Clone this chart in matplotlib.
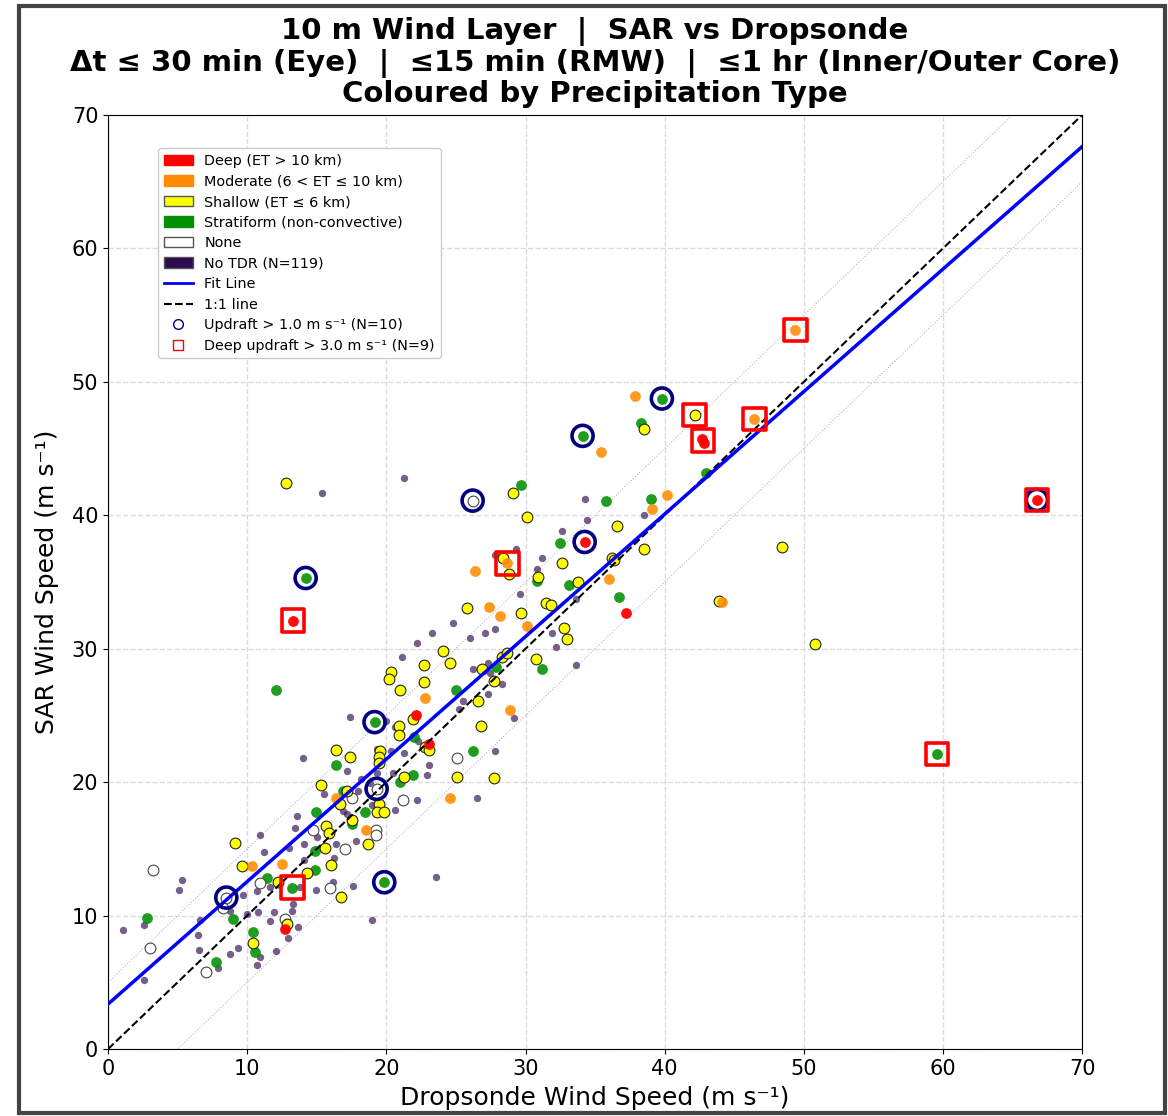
import matplotlib
matplotlib.use("Agg")
import matplotlib.pyplot as plt
from matplotlib.patches import Patch, Rectangle
from matplotlib.lines import Line2D
import numpy as np

# ---------------- data (dropsonde x, SAR y) ----------------
notdr_x = [15.4, 21.3, 23.3, 22.2, 21.1, 32.65, 29.3, 31.2, 30.8, 29.6, 31.9, 32.2, 33.6, 24.8, 26.0,
           27.1, 27.8, 27.3, 28.3, 26.2, 27.3, 25.5, 25.2, 29.15, 27.8, 17.4, 14.0, 17.2, 20.0, 20.6,
           22.25, 21.3, 19.3, 19.3, 23.1, 22.95, 20.5, 22.2, 26.5, 15.5, 17.95, 18.2, 18.8, 18.95, 20.6,
           13.6, 17.15, 13.45, 10.95, 15.05, 14.05, 16.4, 17.8, 14.05, 16.25, 16.2, 17.6, 23.55, 19.0,
           5.35, 5.1, 11.2, 11.65, 10.7, 14.95, 13.8, 9.7, 8.8, 9.95, 10.8, 11.9, 13.2, 13.3, 13.65,
           11.65, 12.9, 10.9, 10.7, 8.75, 9.35, 6.5, 6.55, 6.6, 2.6, 1.1, 2.6, 7.9, 12.1, 13.0, 34.3,
           34.4, 38.55, 27.8, 33.6, 27.45, 16.9, 20.35]
notdr_y = [41.65, 42.8, 31.2, 30.45, 29.35, 38.85, 37.5, 36.8, 36.0, 34.1, 31.2, 30.1, 28.8, 31.9, 30.8,
           31.2, 31.5, 28.95, 27.35, 28.5, 26.6, 26.1, 25.45, 24.8, 22.3, 24.85, 21.8, 20.8, 24.55, 24.1,
           23.05, 22.2, 22.5, 20.7, 21.3, 20.5, 20.7, 18.65, 18.85, 19.1, 19.35, 20.2, 19.9, 18.3, 17.9,
           17.5, 17.65, 16.55, 16.05, 15.9, 15.35, 15.4, 15.6, 14.15, 14.3, 12.55, 12.2, 12.9, 9.65,
           12.65, 11.9, 14.75, 12.15, 11.85, 11.9, 12.15, 11.55, 10.35, 10.15, 10.25, 10.25, 10.35, 10.85, 9.15,
           9.6, 8.35, 6.9, 6.3, 7.15, 7.55, 8.55, 7.4, 9.65, 9.3, 8.95, 5.15, 6.05, 7.35, 15.05, 41.25,
           39.65, 40.0, 37.0, 33.75, 28.15, 17.85, 22.3]

shallow_x = [12.77, 22.7, 20.3, 20.2, 22.7, 21.0, 29.1, 30.1, 28.4, 28.8, 32.65, 30.9, 33.75, 25.8, 29.65,
             31.5, 31.85, 32.8, 33.0, 24.1, 24.6, 30.75, 28.3, 28.65, 26.9, 27.7, 26.6, 26.8, 25.05, 27.7,
             21.9, 20.9, 20.9, 22.8, 23.1, 16.4, 17.4, 19.55, 19.5, 19.5, 21.3, 15.3, 17.2, 16.7, 19.5,
             19.35, 19.85, 17.55, 15.65, 15.9, 15.6, 18.65, 16.05, 14.3, 16.75, 9.1, 9.6, 12.2, 12.85, 10.45,
             42.15, 38.55, 36.55, 38.5, 36.25, 36.35, 43.9, 48.4, 50.8]
shallow_y = [42.4, 28.75, 28.25, 27.7, 27.5, 26.9, 41.65, 39.9, 36.8, 35.6, 36.4, 35.35, 35.0, 33.05, 32.7,
             33.4, 33.3, 31.55, 30.7, 29.8, 28.95, 29.2, 29.4, 29.65, 28.45, 27.6, 26.1, 24.2, 20.4, 20.3,
             24.75, 24.2, 23.5, 22.65, 22.4, 22.4, 21.9, 22.3, 21.9, 21.4, 20.4, 19.8, 19.35, 18.4, 18.35,
             17.8, 17.8, 17.15, 16.75, 16.2, 15.05, 15.4, 13.8, 13.2, 11.4, 15.45, 13.7, 12.55, 9.35, 7.95,
             47.5, 46.5, 39.2, 37.5, 36.8, 36.65, 33.6, 37.6, 30.35]

moderate_x = [22.8, 28.7, 26.4, 27.4, 28.2, 30.1, 28.9, 24.55, 16.4, 18.55, 10.35, 12.5, 37.9, 35.4, 40.2,
              39.1, 36.0, 44.1, 46.45, 49.4]
moderate_y = [26.3, 36.4, 35.85, 33.1, 32.45, 31.7, 25.4, 18.85, 18.8, 16.4, 13.75, 13.85, 48.95, 44.75, 41.55,
              40.5, 35.25, 33.5, 47.2, 53.9]

strat_x = [14.2, 12.1, 29.65, 32.5, 30.8, 33.15, 31.2, 27.9, 25.0, 26.25, 19.15, 22.0, 16.4, 21.9, 21.0,
           16.85, 18.45, 14.95, 17.55, 14.9, 14.9, 19.85, 11.4, 13.25, 9.0, 10.45, 10.55, 2.8, 7.75, 39.8,
           38.3, 34.1, 42.95, 39.0, 35.8, 36.7, 59.55]
strat_y = [35.3, 26.9, 42.3, 37.95, 35.1, 34.8, 28.5, 28.6, 26.9, 22.3, 24.5, 23.4, 21.3, 20.5, 20.0,
           19.35, 17.75, 17.8, 16.9, 14.85, 13.4, 12.5, 12.8, 12.1, 9.75, 8.75, 7.25, 9.8, 6.5, 48.75,
           46.9, 45.95, 43.2, 41.25, 41.1, 33.85, 22.1]

deep_x = [13.3, 22.15, 23.1, 12.75, 34.25, 42.7, 42.8, 37.25, 66.75]
deep_y = [32.1, 25.0, 22.85, 9.0, 38.0, 45.7, 45.45, 32.7, 41.15]

none_x = [26.2, 25.1, 19.3, 21.2, 17.5, 14.75, 19.25, 19.25, 17.0, 15.95, 3.2, 10.95, 8.5, 8.25, 12.75, 3.0, 7.05]
none_y = [41.1, 21.8, 19.5, 18.7, 18.8, 16.45, 16.45, 16.05, 15.0, 12.05, 13.45, 12.45, 11.35, 10.55, 9.75, 7.55, 5.8]

updraft_x = [8.5, 14.2, 19.15, 19.3, 19.85, 26.2, 34.1, 34.25, 39.8, 66.75]
updraft_y = [11.35, 35.3, 24.5, 19.5, 12.5, 41.1, 45.95, 38.0, 48.75, 41.15]

deep_updraft_x = [13.3, 13.25, 28.7, 42.15, 42.75, 46.45, 49.4, 66.75, 59.55]
deep_updraft_y = [32.1, 12.1, 36.4, 47.5, 45.6, 47.2, 53.9, 41.15, 22.1]

fit_slope = 0.918
fit_intercept = 3.37
band_offset = 5.0
n_notdr = 119
n_updraft = 10
n_deep_updraft = 9

# ---------------- figure ----------------
fig = plt.figure(figsize=(11.68, 11.16), dpi=100)
ax = fig.add_axes([0.0925, 0.060, 0.834, 0.837])

ax.grid(True, linestyle='--', color='#d8d8d8', linewidth=1.0, alpha=0.9)
ax.set_axisbelow(True)

xx = np.array([0, 70])
ax.plot(xx, xx + band_offset, color='#bbbbbb', linestyle=':', linewidth=0.8, zorder=1)
ax.plot(xx, xx - band_offset, color='#bbbbbb', linestyle=':', linewidth=0.8, zorder=1)

ax.scatter(notdr_x, notdr_y, s=28, color='#2e0a4f', alpha=0.65, linewidths=0, zorder=2)
ax.scatter(strat_x, strat_y, s=60, color='#009000', alpha=0.88, linewidths=0, zorder=3)
ax.scatter(none_x, none_y, s=60, facecolor='white', edgecolor='#444444', linewidths=0.8, zorder=3)
ax.scatter(shallow_x, shallow_y, s=60, facecolor='yellow', edgecolor='#222222', linewidths=0.8, zorder=3)
ax.scatter(moderate_x, moderate_y, s=60, color='#ff8c00', alpha=0.88, linewidths=0, zorder=3)
ax.scatter(deep_x, deep_y, s=60, color='red', alpha=0.95, linewidths=0, zorder=3)

ax.plot(xx, xx, 'k--', linewidth=1.5, zorder=4)
ax.plot(xx, fit_slope * xx + fit_intercept, color='blue', linewidth=2.5, zorder=4)

ax.scatter(updraft_x, updraft_y, s=230, facecolor='none', edgecolor='navy', linewidths=2.6, zorder=5)
ax.scatter(deep_updraft_x, deep_updraft_y, s=260, marker='s', facecolor='none', edgecolor='red',
           linewidths=2.6, zorder=5)

ax.set_xlim(0, 70)
ax.set_ylim(0, 70)
ax.set_xticks(range(0, 71, 10))
ax.set_yticks(range(0, 71, 10))
ax.tick_params(labelsize=15)
ax.set_xlabel('Dropsonde Wind Speed (m s⁻¹)', fontsize=18, labelpad=5)
ax.set_ylabel('SAR Wind Speed (m s⁻¹)', fontsize=18, labelpad=9)

ax.set_title('10 m Wind Layer  |  SAR vs Dropsonde\n'
             'Δt ≤ 30 min (Eye)  |  ≤15 min (RMW)  |  ≤1 hr (Inner/Outer Core)\n'
             'Coloured by Precipitation Type', fontsize=21, fontweight='bold', pad=9, linespacing=1.13)

handles = [
    Patch(facecolor='red', edgecolor='red', label='Deep (ET > 10 km)'),
    Patch(facecolor='#ff8c00', edgecolor='#ff8c00', label='Moderate (6 < ET ≤ 10 km)'),
    Patch(facecolor='yellow', edgecolor='#555555', label='Shallow (ET ≤ 6 km)'),
    Patch(facecolor='#009000', edgecolor='#009000', label='Stratiform (non-convective)'),
    Patch(facecolor='white', edgecolor='#555555', label='None'),
    Patch(facecolor='#2e0a4f', edgecolor='#555555', label=f'No TDR (N={n_notdr})'),
    Line2D([0], [0], color='blue', linewidth=2, label='Fit Line'),
    Line2D([0], [0], color='black', linestyle='--', linewidth=1.5, label='1:1 line'),
    Line2D([0], [0], marker='o', linestyle='none', markerfacecolor='none', markeredgecolor='navy',
           markersize=7, label=f'Updraft > 1.0 m s⁻¹ (N={n_updraft})'),
    Line2D([0], [0], marker='s', linestyle='none', markerfacecolor='none', markeredgecolor='red',
           markersize=7, label=f'Deep updraft > 3.0 m s⁻¹ (N={n_deep_updraft})'),
]
ax.legend(handles=handles, loc='upper left', bbox_to_anchor=(0.044, 0.972), fontsize=10.4,
          labelspacing=0.45, frameon=True, framealpha=1.0, edgecolor='#cccccc', fancybox=True)

fig.patches.append(Rectangle((0.0163, 0.0027), 0.9811, 0.9919, transform=fig.transFigure,
                             fill=False, edgecolor='#444444', linewidth=3, zorder=10))

fig.savefig('out.png', dpi=100)
